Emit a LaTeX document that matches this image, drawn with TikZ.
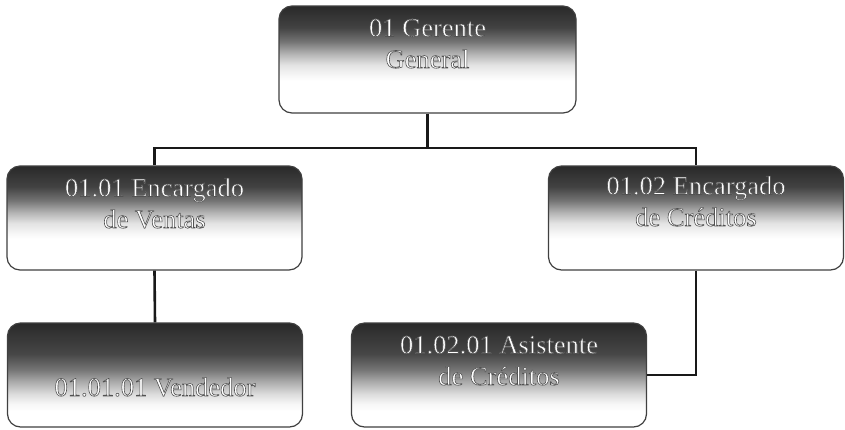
\documentclass[tikz,border=0pt]{standalone}
\usepackage{fontspec}
\setmainfont{Liberation Serif}

% Dark-to-white fades for the boxes (0bp = bottom, 100bp = top;
% a box spans 25bp..75bp)
\pgfdeclareverticalshading{orgfade}{100bp}{%
  color(0bp)=(white); color(40bp)=(white); color(42.5bp)=(black!3);
  color(47.5bp)=(black!11); color(52.5bp)=(black!29); color(58.5bp)=(black!55);
  color(65bp)=(black!74); color(75bp)=(black!84); color(100bp)=(black!84)}
\pgfdeclareverticalshading{orgfadelow}{100bp}{%
  color(0bp)=(white); color(32.5bp)=(white); color(36bp)=(black!3);
  color(41bp)=(black!14); color(46.5bp)=(black!32); color(52.5bp)=(black!54);
  color(60bp)=(black!72); color(75bp)=(black!84); color(100bp)=(black!84)}

% white letters with a thin grey edge
\newcommand\edgedtext[1]{\special{pdf:code 2 Tr 0.6 w 0.32 G}#1\special{pdf:code 0 Tr}}

\tikzset{
  orgbox/.style={draw=black!75, line width=1.2pt, rounded corners=13pt,
    shading=orgfade, minimum width=295pt, minimum height=104pt,
    inner sep=0pt},
  lowbox/.style={orgbox, shading=orgfadelow},
  orgtext/.style={text=white, align=center, inner sep=0pt,
    font=\fontsize{26.5}{31.5}\selectfont, anchor=base},
  link/.style={draw=black!90, line width=2.6pt}
}

\begin{document}
\begin{tikzpicture}[x=1pt, y=-1pt]
  \useasboundingbox[fill=white] (0,0) rectangle (845,429);

  % boxes
  \node[orgbox, minimum width=297pt, minimum height=107pt] (gg) at (427.5,59.5) {};
  \node[orgbox] (ev) at (154.5,218) {};
  \node[orgbox] (ec) at (696,218) {};
  \node[lowbox] (vd) at (155,375) {};
  \node[lowbox] (ac) at (499,375) {};

  % connectors
  \coordinate (bus) at (427.5,148);
  \draw[link] (gg.south) -- (bus);
  \draw[link] (ev.north) |- (bus) -| (ec.north);
  \draw[link] (ev.south) -- (vd.north);
  \draw[link] (ec.south) |- (ac.east);

  % labels (base anchor = baseline of the last line)
  \node[orgtext] (ggt) at (427.5,68) {\edgedtext{01 Gerente}\\\edgedtext{General}};
  \node[orgtext] (evt) at (154.5,228) {\edgedtext{01.01 Encargado}\\\edgedtext{de Ventas}};
  \node[orgtext] (ect) at (696,226) {\edgedtext{01.02 Encargado}\\\edgedtext{de Créditos}};
  \node[orgtext] (vdt) at (155,396) {\edgedtext{01.01.01 Vendedor}};
  \node[orgtext] (act) at (499,385) {\edgedtext{01.02.01 Asistente}\\\edgedtext{de Créditos}};
\end{tikzpicture}
\end{document}
